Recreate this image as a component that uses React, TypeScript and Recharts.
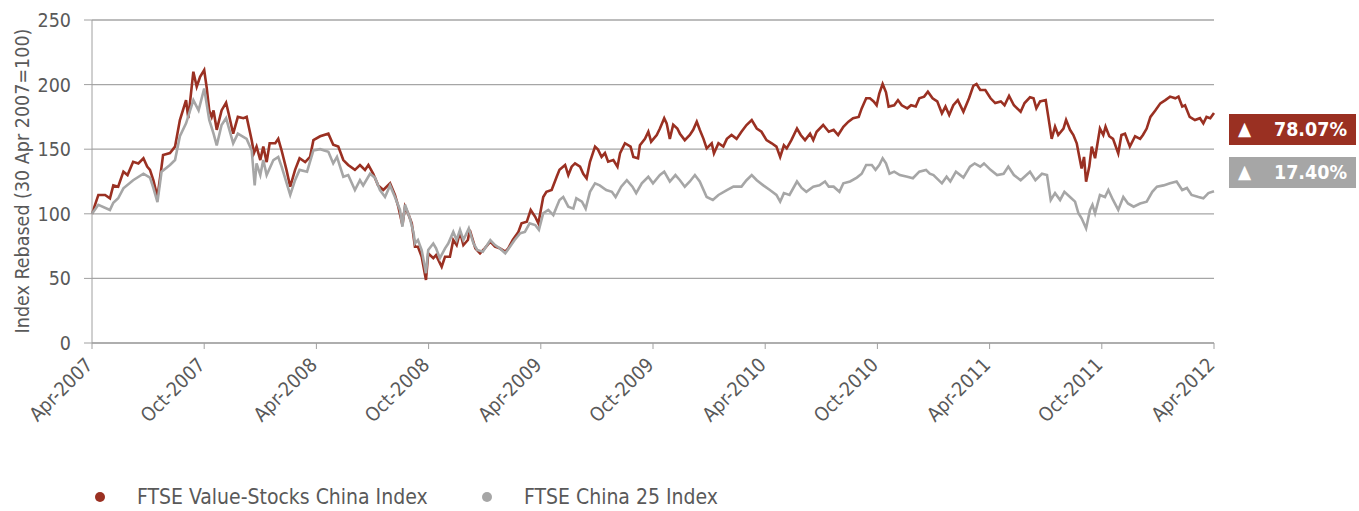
import React from "react";
import { LineChart, Line, XAxis, YAxis, CartesianGrid } from "recharts";

const FONT = "'DejaVu Sans Condensed', 'DejaVu Sans', sans-serif";
const TEXT_COLOR = "#595959";
const RED = "#9a3022";
const GRAY = "#a6a6a6";

const seriesNames = ["FTSE Value-Stocks China Index", "FTSE China 25 Index"];
const changeLabels = ["78.07%", "17.40%"];

const xTickMonths = [0, 6, 12, 18, 24, 30, 36, 42, 48, 54, 60];
const xTickLabels = [
  "Apr-2007", "Oct-2007", "Apr-2008", "Oct-2008", "Apr-2009", "Oct-2009",
  "Apr-2010", "Oct-2010", "Apr-2011", "Oct-2011", "Apr-2012",
];
const yTicks = [0, 50, 100, 150, 200, 250];

// months since 30 Apr 2007
const redMonths = [
  0, 0.34, 0.7, 0.96, 1.14, 1.4, 1.68, 1.9, 2.2, 2.48, 2.75, 2.95, 3.1, 3.28, 3.5, 3.72, 3.8, 4.17, 4.44, 4.7,
  5.03, 5.15, 5.42, 5.6, 5.78, 6.0, 6.13, 6.27, 6.4, 6.5, 6.67, 6.93, 7.17, 7.3, 7.55, 7.8, 8.1, 8.27, 8.54, 8.66,
  8.8, 9.0, 9.16, 9.34, 9.5, 9.8, 9.96, 10.14, 10.4, 10.6, 10.86, 11.1, 11.4, 11.66, 11.84, 12.2, 12.64, 12.9, 13.17, 13.44,
  13.7, 14.06, 14.33, 14.6, 14.78, 15.04, 15.3, 15.58, 15.94, 16.2, 16.38, 16.6, 16.74, 16.9, 17.1, 17.27, 17.43, 17.63, 17.86, 17.98,
  18.25, 18.4, 18.7, 18.88, 19.14, 19.32, 19.5, 19.68, 19.86, 20.1, 20.2, 20.5, 20.75, 21.0, 21.3, 21.55, 21.8, 22.1, 22.26, 22.5,
  22.8, 22.97, 23.25, 23.46, 23.7, 23.87, 24.13, 24.3, 24.58, 24.85, 25.0, 25.3, 25.47, 25.65, 25.83, 26.1, 26.27, 26.45, 26.63, 26.9,
  27.06, 27.25, 27.43, 27.6, 27.88, 28.1, 28.24, 28.5, 28.8, 28.95, 29.2, 29.3, 29.57, 29.75, 29.9, 30.2, 30.37, 30.6, 30.73, 30.9,
  31.08, 31.3, 31.44, 31.7, 31.97, 32.15, 32.34, 32.5, 32.7, 32.87, 33.14, 33.26, 33.5, 33.76, 33.95, 34.2, 34.47, 34.73, 35.0, 35.28,
  35.55, 35.8, 36.07, 36.35, 36.6, 36.8, 37.0, 37.15, 37.4, 37.7, 37.9, 38.13, 38.4, 38.57, 38.75, 39.1, 39.4, 39.66, 39.9, 40.18,
  40.45, 40.7, 41.0, 41.16, 41.4, 41.6, 41.8, 41.96, 42.1, 42.28, 42.46, 42.6, 42.9, 43.1, 43.3, 43.6, 43.8, 44.05, 44.24, 44.5,
  44.7, 44.95, 45.2, 45.45, 45.64, 45.84, 46.06, 46.3, 46.6, 46.9, 47.13, 47.3, 47.5, 47.77, 48.05, 48.3, 48.6, 48.8, 49.04, 49.3,
  49.66, 49.87, 50.16, 50.35, 50.5, 50.7, 51.0, 51.14, 51.32, 51.5, 51.67, 51.95, 52.09, 52.3, 52.48, 52.66, 52.8, 52.92, 53.05, 53.16,
  53.33, 53.46, 53.64, 53.9, 54.08, 54.2, 54.4, 54.6, 54.88, 55.05, 55.24, 55.5, 55.78, 56.05, 56.2, 56.4, 56.6, 56.86, 57.13, 57.4,
  57.65, 57.93, 58.1, 58.3, 58.45, 58.7, 58.98, 59.25, 59.43, 59.6, 59.8, 60,
];
const redValues = [
  100, 114.6, 114.6, 112, 122, 121, 132.6, 130, 140.3, 139, 143, 136.5, 134, 126, 113, 136.5, 145.5, 147, 152, 172.6,
  188, 174, 210, 198.4, 206, 211.3, 198, 180, 175, 180, 165, 180, 186, 178, 162, 175, 174, 175, 157, 147,
  152, 141.6, 152, 140, 154.6, 154.6, 158, 149, 134, 121, 134, 143, 140, 144, 157, 160, 162, 153.5, 152, 141.6,
  137.8, 134, 137.8, 134, 137.8, 131, 122, 118.4, 123.6, 114.6, 105.5, 91.3, 105.5, 100.4, 92.6, 74.5, 74.5, 66.8, 48.8, 69.4,
  65.6, 68, 59, 66.8, 66.8, 79.7, 75.8, 86, 75.8, 79.7, 87.5, 73.3, 69.4, 73.3, 78.4, 74.5, 73.3, 70.7, 73.3, 79.7,
  86, 92.6, 93.8, 103, 97.7, 92.6, 113, 117, 118.4, 128.7, 134, 137.8, 130, 136.5, 139, 136.5, 131, 127.5, 140.3, 152,
  149.7, 144, 147, 140.3, 141.6, 136.5, 147, 154.6, 152, 144, 143, 153, 158, 163.5, 155.8, 161, 166, 174, 170, 158,
  169, 166, 162, 157, 161, 165, 171.3, 165, 158, 150.7, 154.6, 146.8, 154.6, 152, 158, 161, 158, 163.5, 168.7, 172.6,
  166, 163.5, 157, 154.6, 152, 144, 153, 150.7, 157, 166, 161, 157, 162, 157, 163.5, 168.7, 163.5, 165, 161, 167.4,
  171.3, 174, 175, 181.6, 189.4, 189.4, 187, 184, 193, 200.5, 194, 183, 184, 188, 184, 181.6, 184, 183, 189.4, 190.7,
  194.5, 189.4, 187, 177.8, 183, 176.5, 184, 188, 179, 189.4, 199, 200.5, 195.8, 195.8, 189.4, 185.7, 187, 184, 191.2, 184,
  179, 185.7, 190.2, 189.4, 181.6, 187, 188, 175, 158, 167.4, 161, 166, 172.6, 165, 161, 154.6, 144, 135, 144, 124.8,
  136.5, 152, 143, 166, 161, 167.4, 160, 158, 146.8, 161, 162, 152, 160, 158, 161, 166, 175, 180, 185.5, 188,
  190.7, 189.4, 190.7, 183, 184, 175, 172.6, 174, 170, 175, 174, 178.07,
];

const grayMonths = [
  0, 0.34, 0.96, 1.14, 1.4, 1.68, 2.2, 2.75, 3.1, 3.28, 3.5, 3.72, 4.17, 4.44, 4.7, 5.03, 5.42, 5.7, 6.0, 6.27,
  6.5, 6.67, 6.93, 7.17, 7.55, 7.8, 8.27, 8.54, 8.7, 8.8, 9.0, 9.16, 9.34, 9.7, 9.96, 10.14, 10.6, 10.86, 11.1, 11.5,
  11.84, 12.2, 12.64, 12.9, 13.1, 13.44, 13.7, 14.06, 14.33, 14.5, 14.87, 15.13, 15.4, 15.67, 15.94, 16.2, 16.47, 16.6, 16.74, 17.0,
  17.2, 17.27, 17.43, 17.63, 17.86, 17.98, 18.25, 18.4, 18.6, 18.88, 19.05, 19.32, 19.5, 19.68, 19.86, 20.15, 20.4, 20.6, 20.9, 21.3,
  21.55, 21.8, 22.1, 22.35, 22.6, 22.9, 23.15, 23.4, 23.7, 23.9, 24.13, 24.4, 24.67, 24.85, 25.0, 25.2, 25.47, 25.74, 25.9, 26.2,
  26.4, 26.63, 26.9, 27.15, 27.5, 27.8, 28.0, 28.3, 28.6, 28.9, 29.1, 29.4, 29.75, 30.0, 30.37, 30.6, 30.9, 31.2, 31.44, 31.7,
  31.97, 32.24, 32.5, 32.87, 33.2, 33.5, 33.95, 34.3, 34.73, 35.0, 35.28, 35.55, 35.9, 36.25, 36.6, 36.8, 37.0, 37.3, 37.7, 37.95,
  38.2, 38.57, 38.9, 39.2, 39.4, 39.66, 39.97, 40.18, 40.54, 40.9, 41.16, 41.4, 41.7, 41.9, 42.1, 42.28, 42.46, 42.65, 42.9, 43.2,
  43.6, 43.9, 44.24, 44.6, 44.8, 45.0, 45.45, 45.7, 45.9, 46.2, 46.6, 46.95, 47.2, 47.5, 47.7, 48.05, 48.4, 48.75, 49.0, 49.3,
  49.66, 50.16, 50.45, 50.8, 51.07, 51.27, 51.5, 51.77, 52.0, 52.3, 52.57, 52.75, 52.92, 53.16, 53.37, 53.5, 53.64, 53.9, 54.17, 54.35,
  54.6, 54.88, 55.15, 55.4, 55.7, 56.05, 56.4, 56.7, 56.95, 57.3, 57.65, 58.0, 58.3, 58.55, 58.8, 59.17, 59.43, 59.7, 60,
];
const grayValues = [
  100, 107, 103, 108.5, 112, 119.7, 126, 131, 128, 120, 109, 132.6, 137.8, 141.6, 160, 170, 188, 180, 197, 172.6,
  162, 153, 168.7, 174, 154.6, 162, 158, 149, 122, 139, 130, 141.6, 130, 141.6, 144, 136.5, 114.6, 126, 134, 132.6,
  149, 150, 148, 139, 144, 128.7, 130, 118.4, 126, 122, 131, 128, 118.4, 113, 122, 113, 103, 90, 107, 96.5,
  85, 77, 79.7, 72, 54, 72, 77, 73.3, 65.6, 73.3, 77, 86, 79.7, 87.5, 79.7, 88.7, 77, 72, 70.7, 79.7,
  75.8, 73.3, 69.4, 74.5, 79.7, 85, 86, 92.6, 91.3, 87.5, 100.4, 103, 99, 105.5, 110.7, 113, 105.5, 104, 112, 109.4,
  104, 117, 123.6, 122, 118.4, 117, 113, 121, 126, 121, 116, 123.6, 128.7, 123.6, 130, 132.6, 125, 130, 126, 121,
  125, 130, 125, 113, 110.7, 114.6, 118.4, 121, 121, 126, 130, 126, 122, 118.4, 114.6, 109.4, 116, 114.6, 125, 120,
  117, 121, 122, 125, 121, 121, 117, 123.6, 125, 128, 131, 137.8, 137.8, 134, 137.8, 143, 139, 131, 132.6, 130,
  128.7, 127.5, 132.6, 134, 131, 130, 123.6, 128.7, 125, 132.6, 128, 136.5, 139, 136.5, 139, 134, 130, 131, 136.5, 130,
  126, 132.6, 126, 131, 130, 110.7, 116, 110.7, 117, 113, 109.4, 100.4, 96.5, 88.7, 103, 107, 100.4, 114.6, 113, 118.4,
  110.7, 103, 113, 108, 105.5, 108, 109.4, 117, 121, 122, 123.6, 125, 118.4, 120, 114.6, 113, 112, 116, 117.4,
];

const redData = redMonths.map((m, i) => ({ m, v: redValues[i] }));
const grayData = grayMonths.map((m, i) => ({ m, v: grayValues[i] }));

const XTick = (props: any) => {
  const { x, y, payload } = props;
  const idx = xTickMonths.indexOf(payload.value);
  const ax = x + 2;
  const ay = y + 15;
  return (
    <text
      x={ax}
      y={ay}
      transform={`rotate(-45, ${ax}, ${ay})`}
      textAnchor="end"
      fill={TEXT_COLOR}
      fontSize={19.5}
      style={{ fontFamily: FONT, fontStretch: "condensed" }}
    >
      {idx >= 0 ? xTickLabels[idx] : ""}
    </text>
  );
};

const YTitle = () => (
  <text
    x={22}
    y={181}
    transform="rotate(-90, 22, 181)"
    textAnchor="middle"
    dominantBaseline="central"
    fill={TEXT_COLOR}
    fontSize={19.5}
    style={{ fontFamily: FONT, fontStretch: "condensed" }}
  >
    Index Rebased (30 Apr 2007=100)
  </text>
);

const Badge = ({ top, color, label }: { top: number; color: string; label: string }) => (
  <div
    style={{
      position: "absolute",
      left: 1229,
      top,
      width: 127,
      height: 31,
      background: color,
      color: "#fff",
      fontFamily: FONT,
      fontStretch: "condensed",
      fontWeight: "bold",
      fontSize: 19.5,
      lineHeight: "31px",
    }}
  >
    <span style={{ position: "absolute", left: 9, top: -1, fontSize: 19, fontWeight: "normal" }}>▲</span>
    <span style={{ position: "absolute", right: 9, top: 0 }}>{label}</span>
  </div>
);

const LegendItem = ({ left, color, label }: { left: number; color: string; label: string }) => (
  <div style={{ position: "absolute", left, top: 484, height: 26, display: "flex", alignItems: "center" }}>
    <div style={{ width: 10, height: 10, borderRadius: 5, background: color }} />
    <span
      style={{
        marginLeft: 32,
        fontFamily: FONT,
        fontStretch: "condensed",
        fontSize: 21,
        color: TEXT_COLOR,
        whiteSpace: "nowrap",
      }}
    >
      {label}
    </span>
  </div>
);

export default function App() {
  return (
    <div style={{ position: "absolute", left: 0, top: 0, width: 1359, height: 511, background: "#fff" }}>
      <LineChart width={1359} height={511} data={redData} margin={{ top: 20, right: 145, bottom: 0, left: 0 }}>
        <CartesianGrid vertical={false} stroke="#a6a6a6" strokeWidth={1.3} />
        <XAxis
          dataKey="m"
          type="number"
          domain={[0, 60]}
          ticks={xTickMonths}
          interval={0}
          height={168}
          tickSize={6}
          stroke="#a0a0a0"
          tick={<XTick />}
        />
        <YAxis
          type="number"
          domain={[0, 250]}
          ticks={yTicks}
          width={92}
          tickSize={8}
          tickMargin={13}
          stroke="#a0a0a0"
          tick={{ fill: TEXT_COLOR, fontSize: 19.5, fontFamily: FONT, style: { fontStretch: "condensed" } }}
          label={<YTitle />}
        />
        <Line
          data={redData}
          dataKey="v"
          type="linear"
          stroke={RED}
          strokeWidth={2.6}
          dot={false}
          isAnimationActive={false}
          name={seriesNames[0]}
        />
        <Line
          data={grayData}
          dataKey="v"
          type="linear"
          stroke={GRAY}
          strokeWidth={2.6}
          dot={false}
          isAnimationActive={false}
          name={seriesNames[1]}
        />
      </LineChart>
      <Badge top={114} color="#9a3022" label={changeLabels[0]} />
      <Badge top={157} color="#a6a6a6" label={changeLabels[1]} />
      <LegendItem left={95} color={RED} label={seriesNames[0]} />
      <LegendItem left={482} color={GRAY} label={seriesNames[1]} />
    </div>
  );
}
